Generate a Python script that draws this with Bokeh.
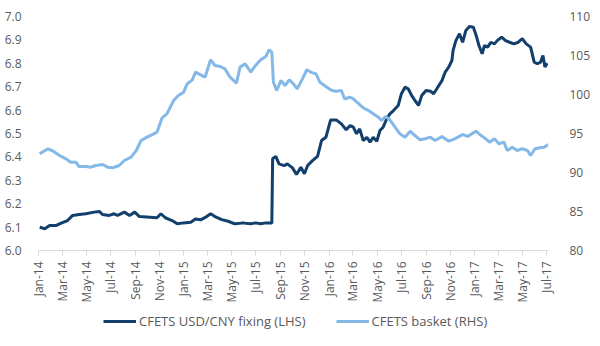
import pandas as pd
import math
from bokeh.plotting import figure
from bokeh.layouts import column
from bokeh.models import (Range1d, LinearAxis, FixedTicker, DatetimeTickFormatter,
                          Legend, LegendItem, ColumnDataSource, NumeralTickFormatter)
from bokeh.embed import file_html
from bokeh.resources import INLINE

# CFETS USD/CNY fixing (LHS)
fix_dates = [
    "2014-01-03", "2014-01-16", "2014-01-28", "2014-02-14", "2014-02-26", "2014-03-14",
    "2014-03-27", "2014-04-12", "2014-04-29", "2014-05-20", "2014-06-02", "2014-06-10",
    "2014-06-27", "2014-07-09", "2014-07-18", "2014-08-04", "2014-08-17", "2014-08-30",
    "2014-09-11", "2014-10-08", "2014-10-25", "2014-11-04", "2014-11-15", "2014-12-02",
    "2014-12-15", "2014-12-31", "2015-01-18", "2015-01-30", "2015-02-12", "2015-02-27",
    "2015-03-09", "2015-03-20", "2015-04-06", "2015-04-22", "2015-05-09", "2015-05-26",
    "2015-06-01", "2015-06-18", "2015-06-30", "2015-07-13", "2015-07-26", "2015-08-10",
    "2015-08-12", "2015-08-20", "2015-08-28", "2015-09-10", "2015-09-18", "2015-10-01",
    "2015-10-11", "2015-10-22", "2015-10-31", "2015-11-08", "2015-11-21", "2015-12-03",
    "2015-12-13", "2015-12-24", "2016-01-05", "2016-01-19", "2016-02-01", "2016-02-13",
    "2016-02-23", "2016-03-02", "2016-03-10", "2016-03-18", "2016-03-27", "2016-04-05",
    "2016-04-13", "2016-04-21", "2016-04-30", "2016-05-08", "2016-05-16", "2016-05-25",
    "2016-06-02", "2016-06-11", "2016-06-23", "2016-07-01", "2016-07-10", "2016-07-18",
    "2016-07-27", "2016-08-04", "2016-08-13", "2016-08-21", "2016-09-01", "2016-09-12",
    "2016-09-20", "2016-09-28", "2016-10-11", "2016-10-19", "2016-10-28", "2016-11-05",
    "2016-11-08", "2016-11-15", "2016-11-24", "2016-12-02", "2016-12-10", "2016-12-19",
    "2016-12-29", "2017-01-05", "2017-01-12", "2017-01-20", "2017-01-26", "2017-02-03",
    "2017-02-11", "2017-02-20", "2017-02-27", "2017-03-10", "2017-03-20", "2017-03-30",
    "2017-04-10", "2017-04-21", "2017-05-01", "2017-05-11", "2017-05-22", "2017-05-31",
    "2017-06-08", "2017-06-16", "2017-06-22", "2017-06-27", "2017-07-03",
]
fix_values = [
    6.100, 6.093, 6.107, 6.107, 6.117, 6.128,
    6.150, 6.154, 6.157, 6.164, 6.167, 6.154,
    6.150, 6.157, 6.150, 6.164, 6.150, 6.164,
    6.145, 6.142, 6.140, 6.157, 6.140, 6.128,
    6.114, 6.118, 6.121, 6.135, 6.131, 6.145,
    6.157, 6.145, 6.132, 6.125, 6.114, 6.117,
    6.117, 6.114, 6.118, 6.114, 6.118, 6.117,
    6.392, 6.402, 6.370, 6.363, 6.370, 6.353,
    6.325, 6.356, 6.328, 6.363, 6.385, 6.402,
    6.470, 6.484, 6.558, 6.558, 6.541, 6.516,
    6.534, 6.527, 6.499, 6.520, 6.470, 6.484,
    6.463, 6.484, 6.467, 6.513, 6.527, 6.563,
    6.584, 6.598, 6.620, 6.670, 6.698, 6.691,
    6.662, 6.641, 6.620, 6.662, 6.684, 6.681,
    6.670, 6.691, 6.726, 6.762, 6.784, 6.812,
    6.855, 6.897, 6.926, 6.890, 6.940, 6.957,
    6.954, 6.919, 6.876, 6.841, 6.876, 6.869,
    6.890, 6.883, 6.897, 6.912, 6.897, 6.890,
    6.883, 6.890, 6.905, 6.883, 6.869, 6.805,
    6.798, 6.805, 6.833, 6.784, 6.800,
]

# CFETS basket (RHS)
basket_dates = [
    "2014-01-03", "2014-01-24", "2014-02-06", "2014-02-22", "2014-03-10", "2014-03-22",
    "2014-04-04", "2014-04-12", "2014-04-29", "2014-05-12", "2014-05-24", "2014-06-10",
    "2014-06-23", "2014-07-05", "2014-07-22", "2014-08-04", "2014-08-21", "2014-09-03",
    "2014-09-15", "2014-09-30", "2014-10-12", "2014-10-25", "2014-11-07", "2014-11-19",
    "2014-12-06", "2014-12-18", "2014-12-31", "2015-01-09", "2015-01-22", "2015-01-30",
    "2015-02-12", "2015-02-23", "2015-03-09", "2015-03-20", "2015-04-02", "2015-04-14",
    "2015-04-27", "2015-05-13", "2015-05-22", "2015-06-04", "2015-06-18", "2015-06-30",
    "2015-07-13", "2015-07-26", "2015-08-03", "2015-08-10", "2015-08-14", "2015-08-22",
    "2015-09-02", "2015-09-12", "2015-09-23", "2015-10-03", "2015-10-13", "2015-10-26",
    "2015-11-06", "2015-11-16", "2015-11-29", "2015-12-09", "2015-12-24", "2016-01-08",
    "2016-01-19", "2016-02-01", "2016-02-09", "2016-02-23", "2016-03-02", "2016-03-14",
    "2016-03-27", "2016-04-09", "2016-04-21", "2016-05-04", "2016-05-12", "2016-05-22",
    "2016-06-02", "2016-06-15", "2016-06-27", "2016-07-10", "2016-07-23", "2016-08-04",
    "2016-08-17", "2016-08-30", "2016-09-12", "2016-09-24", "2016-10-11", "2016-10-28",
    "2016-11-12", "2016-11-20", "2016-12-02", "2016-12-15", "2016-12-27", "2017-01-05",
    "2017-01-14", "2017-01-26", "2017-02-08", "2017-02-20", "2017-03-03", "2017-03-16",
    "2017-03-24", "2017-04-06", "2017-04-18", "2017-05-01", "2017-05-14", "2017-05-22",
    "2017-06-02", "2017-06-14", "2017-06-25", "2017-07-05",
]
basket_values = [
    92.40, 93.04, 92.73, 92.18, 91.75, 91.32,
    91.32, 90.77, 90.77, 90.68, 90.90, 91.03,
    90.68, 90.60, 90.90, 91.54, 91.97, 92.82,
    94.10, 94.53, 94.83, 95.17, 97.01, 97.52,
    99.23, 99.87, 100.30, 101.37, 101.88, 102.86,
    102.52, 102.22, 104.45, 103.72, 103.59, 103.29,
    102.22, 101.45, 103.51, 103.93, 102.86, 103.72,
    104.45, 104.87, 105.73, 105.42, 101.58, 100.51,
    101.79, 101.15, 101.88, 101.37, 100.73, 102.01,
    103.17, 102.86, 102.65, 101.58, 101.03, 100.51,
    100.42, 100.51, 99.45, 99.65, 99.45, 98.88,
    98.29, 97.95, 97.52, 97.09, 96.67, 97.18,
    96.76, 95.81, 94.96, 94.53, 95.30, 94.74,
    94.19, 94.32, 94.53, 94.10, 94.62, 94.02,
    94.32, 94.53, 94.87, 94.62, 95.04, 95.30,
    94.87, 94.44, 93.89, 94.32, 93.68, 93.89,
    92.82, 93.24, 92.82, 93.04, 92.82, 92.18,
    93.04, 93.17, 93.24, 93.59,
]

tick_dates = [
    "2014-01-01", "2014-03-01", "2014-05-01", "2014-07-01", "2014-09-01", "2014-11-01",
    "2015-01-01", "2015-03-01", "2015-05-01", "2015-07-01", "2015-09-01", "2015-11-01",
    "2016-01-01", "2016-03-01", "2016-05-01", "2016-07-01", "2016-09-01", "2016-11-01",
    "2017-01-01", "2017-03-01", "2017-05-01", "2017-07-01",
]
left_ticks = [6.0, 6.1, 6.2, 6.3, 6.4, 6.5, 6.6, 6.7, 6.8, 6.9, 7.0]
right_ticks = [80, 85, 90, 95, 100, 105, 110]
series_labels = ["CFETS USD/CNY fixing (LHS)", "CFETS basket (RHS)"]

DARK = "#123f6b"
LIGHT = "#84b8e7"
TXT = "#595959"
FONT = "Open Sans"

src_fix = ColumnDataSource(dict(x=pd.to_datetime(fix_dates), y=fix_values))
src_bsk = ColumnDataSource(dict(x=pd.to_datetime(basket_dates), y=basket_values))

p = figure(width=600, height=305, x_axis_type="datetime",
           x_range=Range1d(pd.Timestamp("2013-12-31"), pd.Timestamp("2017-07-06")),
           y_range=Range1d(6.0, 7.0),
           output_backend="svg", toolbar_location=None,
           min_border_left=38, min_border_right=52, min_border_top=16, min_border_bottom=55)
p.outline_line_color = None
p.xgrid.visible = False
p.ygrid.visible = False
p.background_fill_color = "white"

p.extra_y_ranges = {"rhs": Range1d(80, 110)}

r1 = p.line("x", "y", source=src_fix, line_color=DARK, line_width=3)
r2 = p.line("x", "y", source=src_bsk, line_color=LIGHT, line_width=3, y_range_name="rhs")

tick_ms = (pd.to_datetime(tick_dates).asi8 // 10**6).tolist()
xa = p.xaxis[0]
xa.ticker = FixedTicker(ticks=tick_ms)
fmt = "%b-%y"
xa.formatter = DatetimeTickFormatter(milliseconds=fmt, seconds=fmt, minsec=fmt, minutes=fmt,
                                     hourmin=fmt, hours=fmt, days=fmt, months=fmt, years=fmt)
xa.major_label_orientation = math.pi / 2
xa.axis_line_color = "#d9d9d9"
xa.major_tick_line_color = "#d9d9d9"
xa.major_tick_out = 5
xa.major_tick_in = 0
xa.minor_tick_line_color = None
xa.major_label_standoff = 6
xa.major_label_text_font = FONT
xa.major_label_text_font_size = "12px"
xa.major_label_text_color = TXT

ya = p.yaxis[0]
ya.ticker = FixedTicker(ticks=left_ticks)
ya.formatter = NumeralTickFormatter(format="0.0")
ya.axis_line_color = None
ya.major_tick_line_color = None
ya.minor_tick_line_color = None
ya.major_label_standoff = 11
ya.major_label_text_font = FONT
ya.major_label_text_font_size = "12px"
ya.major_label_text_color = TXT

ra = LinearAxis(y_range_name="rhs", ticker=FixedTicker(ticks=right_ticks))
ra.axis_line_color = None
ra.major_tick_line_color = None
ra.minor_tick_line_color = None
ra.major_label_standoff = 15
ra.major_label_text_font = FONT
ra.major_label_text_font_size = "12px"
ra.major_label_text_color = TXT
p.add_layout(ra, "right")

# legend strip below the chart (its lines lie outside this strip's ranges, only the keys show)
lg = figure(width=600, height=41, x_range=Range1d(0, 1), y_range=Range1d(0, 1),
            x_axis_location=None, y_axis_location=None,
            output_backend="svg", toolbar_location=None, min_border=0)
lg.grid.visible = False
lg.outline_line_color = None
k1 = lg.line("x", "y", source=src_fix, line_color=DARK, line_width=3)
k2 = lg.line("x", "y", source=src_bsk, line_color=LIGHT, line_width=3)
legend = Legend(items=[LegendItem(label=series_labels[0], renderers=[k1]),
                       LegendItem(label=series_labels[1], renderers=[k2])],
                orientation="horizontal", location=(65, 16))
legend.border_line_color = None
legend.background_fill_alpha = 0
legend.label_text_font = FONT
legend.label_text_font_size = "13px"
legend.label_text_color = TXT
legend.glyph_width = 33
legend.glyph_height = 14
legend.label_height = 14
legend.label_standoff = 3
legend.spacing = 30
legend.padding = 0
legend.margin = 0
lg.add_layout(legend, "center")

open("out.html", "w").write(file_html(column(p, lg, spacing=0), INLINE))
